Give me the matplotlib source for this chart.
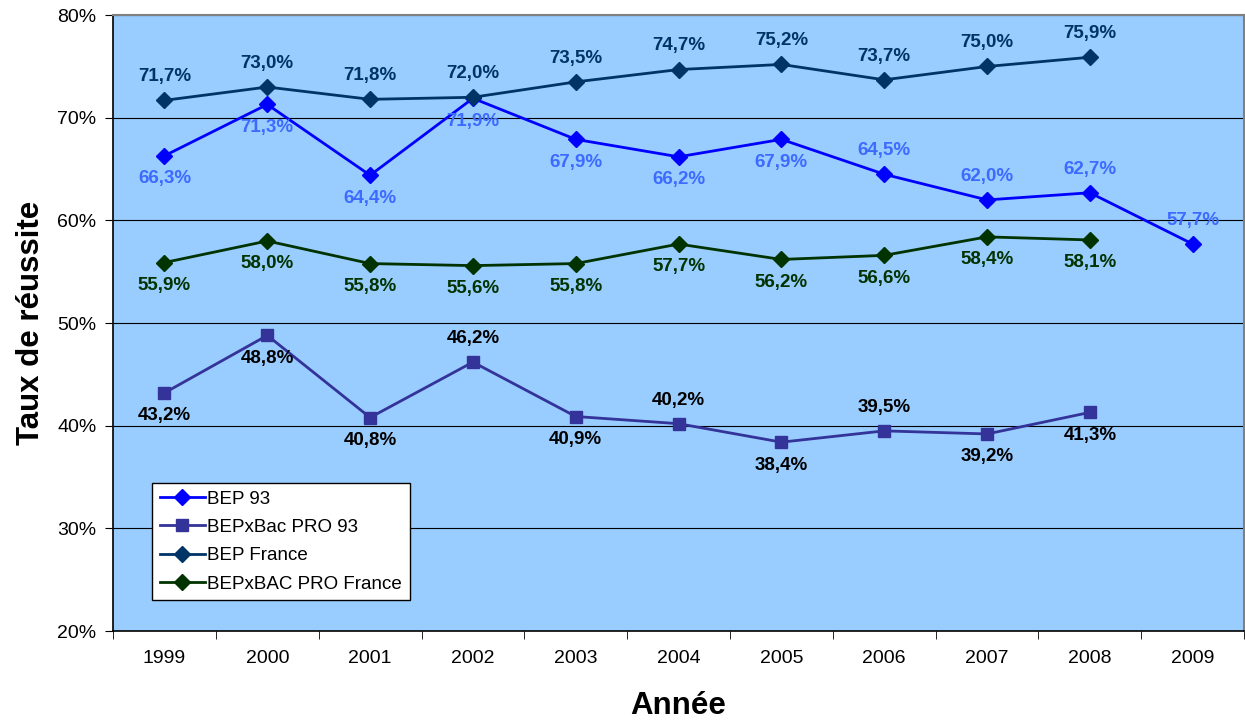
import numpy as np
import matplotlib
matplotlib.use('Agg')
import matplotlib.pyplot as plt

plt.rcParams['font.family'] = ['Liberation Sans', 'DejaVu Sans']

years = ['1999', '2000', '2001', '2002', '2003', '2004', '2005', '2006', '2007', '2008', '2009']

bep_93 = [66.3, 71.3, 64.4, 71.9, 67.9, 66.2, 67.9, 64.5, 62.0, 62.7, 57.7]
bac_pro_93 = [43.2, 48.8, 40.8, 46.2, 40.9, 40.2, 38.4, 39.5, 39.2, 41.3]
bep_france = [71.7, 73.0, 71.8, 72.0, 73.5, 74.7, 75.2, 73.7, 75.0, 75.9]
bac_pro_france = [55.9, 58.0, 55.8, 55.6, 55.8, 57.7, 56.2, 56.6, 58.4, 58.1]

# label side: 1 above, -1 below
bep_93_side = [-1, -1, -1, -1, -1, -1, -1, 1, 1, 1, 1]
bac_pro_93_side = [-1, -1, -1, 1, -1, 1, -1, 1, -1, -1]
bep_france_side = [1] * 10
bac_pro_france_side = [-1] * 10

series = [
    ('BEP 93', bep_93, bep_93_side, '#0000FF', 'D', '#3D6BFF', 8),
    ('BEPxBac PRO 93', bac_pro_93, bac_pro_93_side, '#333399', 's', '#000000', 9),
    ('BEP France', bep_france, bep_france_side, '#003366', 'D', '#003366', 8),
    ('BEPxBAC PRO France', bac_pro_france, bac_pro_france_side, '#003300', 'D', '#003300', 8),
]

fig = plt.figure(figsize=(12.45, 7.22), dpi=100)
ax = fig.add_axes([0.0908, 0.126, 0.9085, 0.853])
ax.set_facecolor('#99CCFF')

for name, vals, sides, col, mk, lcol, ms in series:
    x = np.arange(len(vals))
    ax.plot(x, vals, color=col, lw=2, marker=mk, ms=ms, label=name, zorder=3)
    for xi, v, s in zip(x, vals, sides):
        dy = 17 if s > 0 else -16.5
        ax.annotate(f'{v:.1f}%'.replace('.', ','), (xi, v), xytext=(0, dy),
                    textcoords='offset points', ha='center', va='center',
                    fontsize=13.5, fontweight='bold', color=lcol, zorder=4)

ax.set_xlim(-0.5, len(years) - 0.5)
ax.set_ylim(20, 80)
ax.set_yticks(np.arange(20, 81, 10))
ax.set_yticklabels([f'{v}%' for v in range(20, 81, 10)], fontsize=14)
ax.set_xticks(np.arange(len(years)))
ax.set_xticklabels(years, fontsize=14)
ax.set_xticks(np.arange(len(years) + 1) - 0.5, minor=True)
ax.tick_params(axis='x', which='major', length=0, pad=14)
ax.tick_params(axis='x', which='minor', length=6, direction='out', color='black')
ax.tick_params(axis='y', length=6, direction='out', pad=6)
ax.grid(axis='y', color='black', lw=0.8, zorder=1)
ax.set_axisbelow(True)

for side in ['top', 'right']:
    ax.spines[side].set_color('#808080')
    ax.spines[side].set_linewidth(1.5)
for side in ['left', 'bottom']:
    ax.spines[side].set_color('black')
    ax.spines[side].set_linewidth(1.2)

ax.set_ylabel('Taux de réussite', fontsize=22.5, fontweight='bold', labelpad=8)
ax.set_xlabel('Année', fontsize=22.5, fontweight='bold', labelpad=17)

leg = ax.legend(loc='lower left', bbox_to_anchor=(0.0345, 0.05), borderaxespad=0,
                fontsize=13.5, frameon=True, fancybox=False, edgecolor='black',
                framealpha=1, borderpad=0.4, labelspacing=0.6, handlelength=2.4,
                handletextpad=0.15)
leg.get_frame().set_linewidth(1)

fig.savefig('out.png', dpi=100)
